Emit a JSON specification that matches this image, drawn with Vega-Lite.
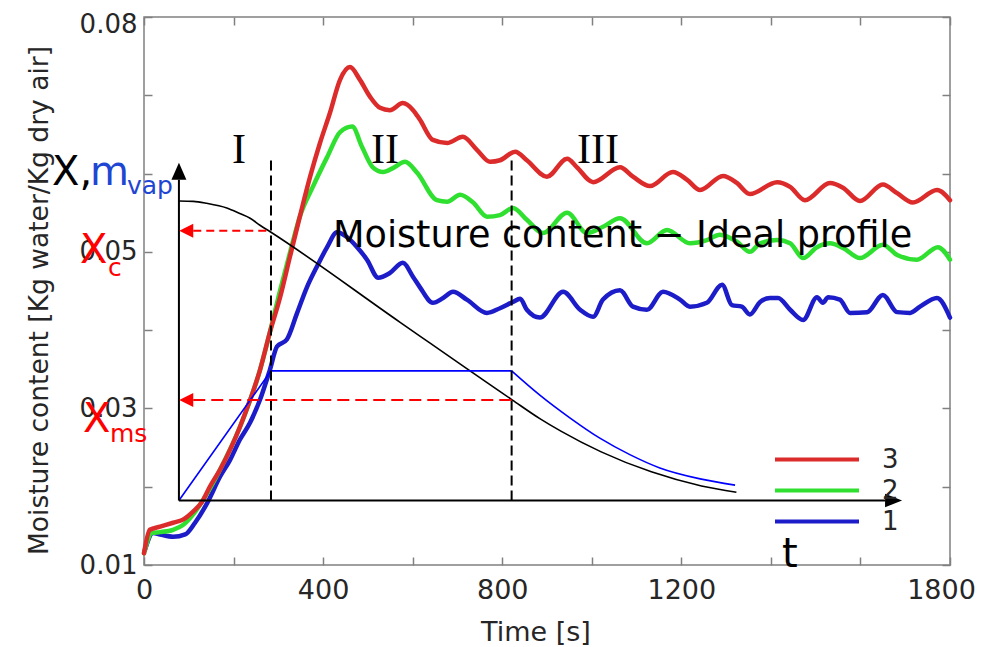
{
  "$schema": "https://vega.github.io/schema/vega-lite/v6.json",
  "width": 806,
  "height": 548,
  "autosize": {"type": "none"},
  "padding": {"left": 144, "top": 17, "right": 33, "bottom": 82},
  "config": {
    "view": {"stroke": "#808080", "strokeWidth": 1.5},
    "font": "DejaVu Sans",
    "text": {"font": "DejaVu Sans"}
  },
  "datasets": {
    "series": [
      {"series":"1","x":2,"y":0.0119},{"series":"1","x":20,"y":0.0141},{"series":"1","x":36,"y":0.0139},{"series":"1","x":65,"y":0.0136},{"series":"1","x":92,"y":0.0139},{"series":"1","x":114,"y":0.0154},{"series":"1","x":141,"y":0.0179},{"series":"1","x":170,"y":0.0213},{"series":"1","x":192,"y":0.0234},{"series":"1","x":214,"y":0.0260},{"series":"1","x":237,"y":0.0282},{"series":"1","x":259,"y":0.0311},{"series":"1","x":281,"y":0.0349},{"series":"1","x":297,"y":0.0379},{"series":"1","x":319,"y":0.0388},{"series":"1","x":342,"y":0.0422},{"series":"1","x":364,"y":0.0455},{"series":"1","x":386,"y":0.0481},{"series":"1","x":409,"y":0.0506},{"series":"1","x":431,"y":0.0525},{"series":"1","x":453,"y":0.0519},{"series":"1","x":476,"y":0.0506},{"series":"1","x":498,"y":0.0490},{"series":"1","x":523,"y":0.0467},{"series":"1","x":549,"y":0.0473},{"series":"1","x":578,"y":0.0486},{"series":"1","x":601,"y":0.0468},{"series":"1","x":616,"y":0.0455},{"series":"1","x":645,"y":0.0435},{"series":"1","x":668,"y":0.0441},{"series":"1","x":690,"y":0.0449},{"series":"1","x":721,"y":0.0439},{"series":"1","x":766,"y":0.0422},{"series":"1","x":795,"y":0.0428},{"series":"1","x":824,"y":0.0436},{"series":"1","x":840,"y":0.0440},{"series":"1","x":855,"y":0.0426},{"series":"1","x":884,"y":0.0416},{"series":"1","x":936,"y":0.0449},{"series":"1","x":974,"y":0.0426},{"series":"1","x":1003,"y":0.0417},{"series":"1","x":1025,"y":0.0439},{"series":"1","x":1063,"y":0.0451},{"series":"1","x":1092,"y":0.0430},{"series":"1","x":1123,"y":0.0426},{"series":"1","x":1159,"y":0.0449},{"series":"1","x":1197,"y":0.0439},{"series":"1","x":1219,"y":0.0430},{"series":"1","x":1257,"y":0.0435},{"series":"1","x":1291,"y":0.0458},{"series":"1","x":1313,"y":0.0432},{"series":"1","x":1335,"y":0.0430},{"series":"1","x":1353,"y":0.0420},{"series":"1","x":1376,"y":0.0436},{"series":"1","x":1398,"y":0.0441},{"series":"1","x":1416,"y":0.0441},{"series":"1","x":1443,"y":0.0426},{"series":"1","x":1472,"y":0.0413},{"series":"1","x":1503,"y":0.0442},{"series":"1","x":1516,"y":0.0435},{"series":"1","x":1528,"y":0.0442},{"series":"1","x":1554,"y":0.0439},{"series":"1","x":1577,"y":0.0422},{"series":"1","x":1615,"y":0.0423},{"series":"1","x":1650,"y":0.0445},{"series":"1","x":1682,"y":0.0423},{"series":"1","x":1711,"y":0.0422},{"series":"1","x":1733,"y":0.0430},{"series":"1","x":1771,"y":0.0441},{"series":"1","x":1800,"y":0.0416},
      {"series":"2","x":0,"y":0.0115},{"series":"2","x":18,"y":0.0141},{"series":"2","x":36,"y":0.0142},{"series":"2","x":65,"y":0.0145},{"series":"2","x":87,"y":0.0151},{"series":"2","x":109,"y":0.0164},{"series":"2","x":132,"y":0.0183},{"series":"2","x":170,"y":0.0222},{"series":"2","x":214,"y":0.0276},{"series":"2","x":259,"y":0.0349},{"series":"2","x":281,"y":0.0397},{"series":"2","x":304,"y":0.0451},{"series":"2","x":326,"y":0.0499},{"series":"2","x":348,"y":0.0545},{"series":"2","x":377,"y":0.0583},{"series":"2","x":409,"y":0.0621},{"series":"2","x":438,"y":0.0653},{"series":"2","x":465,"y":0.0660},{"series":"2","x":487,"y":0.0634},{"series":"2","x":511,"y":0.0608},{"series":"2","x":534,"y":0.0602},{"series":"2","x":556,"y":0.0607},{"series":"2","x":583,"y":0.0615},{"series":"2","x":610,"y":0.0601},{"series":"2","x":654,"y":0.0566},{"series":"2","x":677,"y":0.0564},{"series":"2","x":706,"y":0.0573},{"series":"2","x":735,"y":0.0563},{"series":"2","x":766,"y":0.0545},{"series":"2","x":795,"y":0.0547},{"series":"2","x":824,"y":0.0556},{"series":"2","x":855,"y":0.0541},{"series":"2","x":891,"y":0.0524},{"series":"2","x":945,"y":0.0550},{"series":"2","x":989,"y":0.0524},{"series":"2","x":1025,"y":0.0532},{"series":"2","x":1063,"y":0.0543},{"series":"2","x":1123,"y":0.0511},{"series":"2","x":1168,"y":0.0528},{"series":"2","x":1219,"y":0.0511},{"series":"2","x":1257,"y":0.0515},{"series":"2","x":1286,"y":0.0522},{"series":"2","x":1324,"y":0.0513},{"series":"2","x":1353,"y":0.0500},{"series":"2","x":1376,"y":0.0511},{"series":"2","x":1414,"y":0.0515},{"series":"2","x":1443,"y":0.0511},{"series":"2","x":1472,"y":0.0492},{"series":"2","x":1503,"y":0.0506},{"series":"2","x":1532,"y":0.0511},{"series":"2","x":1561,"y":0.0505},{"series":"2","x":1599,"y":0.0492},{"series":"2","x":1650,"y":0.0509},{"series":"2","x":1682,"y":0.0496},{"series":"2","x":1726,"y":0.0490},{"series":"2","x":1773,"y":0.0506},{"series":"2","x":1800,"y":0.0490},
      {"series":"3","x":0,"y":0.0115},{"series":"3","x":13,"y":0.0145},{"series":"3","x":36,"y":0.0149},{"series":"3","x":65,"y":0.0154},{"series":"3","x":87,"y":0.0158},{"series":"3","x":109,"y":0.0168},{"series":"3","x":130,"y":0.0181},{"series":"3","x":147,"y":0.0200},{"series":"3","x":170,"y":0.0222},{"series":"3","x":192,"y":0.0247},{"series":"3","x":214,"y":0.0276},{"series":"3","x":237,"y":0.0311},{"series":"3","x":259,"y":0.0349},{"series":"3","x":281,"y":0.0397},{"series":"3","x":304,"y":0.0442},{"series":"3","x":326,"y":0.0494},{"series":"3","x":348,"y":0.0545},{"series":"3","x":371,"y":0.0596},{"series":"3","x":393,"y":0.0639},{"series":"3","x":415,"y":0.0677},{"series":"3","x":438,"y":0.0720},{"series":"3","x":460,"y":0.0736},{"series":"3","x":482,"y":0.0720},{"series":"3","x":505,"y":0.0698},{"series":"3","x":527,"y":0.0684},{"series":"3","x":549,"y":0.0681},{"series":"3","x":578,"y":0.0690},{"series":"3","x":601,"y":0.0681},{"series":"3","x":616,"y":0.0669},{"series":"3","x":645,"y":0.0643},{"series":"3","x":677,"y":0.0639},{"series":"3","x":712,"y":0.0647},{"series":"3","x":744,"y":0.0630},{"series":"3","x":773,"y":0.0615},{"series":"3","x":795,"y":0.0617},{"series":"3","x":829,"y":0.0628},{"series":"3","x":855,"y":0.0617},{"series":"3","x":900,"y":0.0596},{"series":"3","x":945,"y":0.0619},{"series":"3","x":967,"y":0.0608},{"series":"3","x":1003,"y":0.0589},{"series":"3","x":1063,"y":0.0608},{"series":"3","x":1092,"y":0.0596},{"series":"3","x":1130,"y":0.0584},{"series":"3","x":1181,"y":0.0602},{"series":"3","x":1213,"y":0.0592},{"series":"3","x":1242,"y":0.0579},{"series":"3","x":1293,"y":0.0597},{"series":"3","x":1324,"y":0.0588},{"series":"3","x":1353,"y":0.0574},{"series":"3","x":1414,"y":0.0589},{"series":"3","x":1443,"y":0.0583},{"series":"3","x":1476,"y":0.0566},{"series":"3","x":1532,"y":0.0588},{"series":"3","x":1561,"y":0.0582},{"series":"3","x":1599,"y":0.0565},{"series":"3","x":1650,"y":0.0586},{"series":"3","x":1682,"y":0.0575},{"series":"3","x":1717,"y":0.0563},{"series":"3","x":1771,"y":0.0579},{"series":"3","x":1800,"y":0.0566}
    ],
    "blackCurve": [
      {"x":78,"y":0.0565},{"x":110,"y":0.05645},{"x":140,"y":0.0562},{"x":185,"y":0.0556},{"x":214,"y":0.0549},{"x":237,"y":0.0543},{"x":259,"y":0.0534},{"x":281,"y":0.0526},{"x":572,"y":0.0410},{"x":822,"y":0.0311},{"x":884,"y":0.0287},{"x":931,"y":0.0271},{"x":1021,"y":0.02445},{"x":1133,"y":0.0219},{"x":1245,"y":0.0201},{"x":1323,"y":0.0193}
    ],
    "blueProfile": [
      {"x":78,"y":0.01823},{"x":283.6,"y":0.0348},{"x":821,"y":0.0348}
    ],
    "blueDecay": [
      {"x":821,"y":0.0348},{"x":884,"y":0.0317},{"x":951,"y":0.0288},{"x":1018,"y":0.0262},{"x":1085,"y":0.0241},{"x":1152,"y":0.0224},{"x":1242,"y":0.0210},{"x":1320,"y":0.0202}
    ],
    "overlayAxes": [
      {"x":78,"y":0.01823,"x2":78,"y2":0.0592},
      {"x":78,"y":0.01823,"x2":1655,"y2":0.01823}
    ],
    "arrowUp": [{"x":78,"y":0.0592}],
    "arrowRight": [{"x":1655,"y":0.01823}],
    "arrowLeft": [{"x":110,"y":0.05271},{"x":110,"y":0.03109}],
    "dashBlack": [
      {"x":283.6,"y":0.01823,"x2":283.6,"y2":0.0620},
      {"x":821,"y":0.01823,"x2":821,"y2":0.0622}
    ],
    "dashRedShort": [{"x":110,"y":0.05271,"x2":283.6,"y2":0.05271}],
    "dashRedLong": [{"x":110,"y":0.03109,"x2":821,"y2":0.03109}],
    "textBlack": [{"x":-205.5,"y":0.05855,"text":"X,"},{"x":1425,"y":0.00977,"text":"t"}],
    "textBlue": [{"x":-120.6,"y":0.05855,"text":"m"}],
    "textBlueSub": [{"x":-38,"y":0.0574,"text":"vap"}],
    "textRed": [{"x":-143,"y":0.04859,"text":"X"},{"x":-136.2,"y":0.0270,"text":"X"}],
    "textRedSub": [{"x":-80.4,"y":0.04693,"text":"c"},{"x":-75.9,"y":0.02573,"text":"ms"}],
    "roman": [{"x":212,"y":0.06136,"text":"I"},{"x":538,"y":0.06136,"text":"II"},{"x":1014,"y":0.06136,"text":"III"}],
    "profileTitle": [{"x":422,"y":0.05067,"text":"Moisture content − Ideal profile"}]
  },
  "encoding": {
    "x": {"field": "x", "type": "quantitative", "scale": {"domain": [0, 1800], "nice": false, "zero": false}, "axis": null},
    "y": {"field": "y", "type": "quantitative", "scale": {"domain": [0.01, 0.08], "nice": false, "zero": false}, "axis": null}
  },
  "layer": [
    {
      "data": {"name": "series"},
      "mark": {"type": "line", "strokeWidth": 4.5, "strokeJoin": "round", "strokeCap": "round", "interpolate": "monotone"},
      "encoding": {
        "x": {"field": "x", "type": "quantitative", "scale": {"domain": [0, 1800], "nice": false, "zero": false},
          "axis": {"orient": "bottom", "values": [0,200,400,600,800,1000,1200,1400,1600,1800], "format": "d",
            "labelExpr": "indexof([0,400,800,1200,1800], datum.value) >= 0 ? datum.label : ''",
            "labelFontSize": 27, "labelColor": "#262626", "labelFont": "DejaVu Sans", "labelFlush": false, "labelOverlap": false,
            "labelOffset": {"condition": {"test": "datum.value > 1700", "value": -9}, "value": 0},
            "tickColor": "#808080", "tickWidth": 1.5, "tickSize": -8, "labelPadding": 20, "domain": false, "grid": false,
            "title": "Time [s]", "titleFontSize": 27, "titleFontWeight": "normal", "titleColor": "#262626", "titleFont": "DejaVu Sans",
            "titleX": 391.5, "titleY": 75, "titleBaseline": "alphabetic", "titleAlign": "center", "titleAnchor": null}},
        "y": {"field": "y", "type": "quantitative", "scale": {"domain": [0.01, 0.08], "nice": false, "zero": false},
          "axis": {"orient": "left", "values": [0.01,0.02,0.03,0.04,0.05,0.06,0.07,0.08],
            "labelExpr": "indexof([1,3,5,8], round(datum.value*100)) >= 0 ? format(datum.value, '.2f') : ''",
            "labelFontSize": 26, "labelColor": "#262626", "labelFont": "DejaVu Sans", "labelFlush": false, "labelOverlap": false,
            "labelOffset": {"condition": {"test": "datum.value > 0.075", "value": 7}, "value": 0},
            "tickColor": "#808080", "tickWidth": 1.5, "tickSize": -8, "labelPadding": 15, "domain": false, "grid": false,
            "title": "Moisture content [Kg water/Kg dry air]", "titleFontSize": 26.5, "titleFontWeight": "normal", "titleColor": "#262626", "titleFont": "DejaVu Sans",
            "titleX": -97, "titleY": 283, "titleAngle": 270, "titleBaseline": "alphabetic", "titleAlign": "center", "titleAnchor": null}},
        "color": {"field": "series", "type": "nominal",
          "scale": {"domain": ["3","2","1"], "range": ["#dc2b2b","#30e030","#1c1cc8"]},
          "legend": {"orient": "none", "legendX": 629, "legendY": 430, "title": null, "symbolType": "stroke", "symbolSize": 7056,
            "symbolStrokeWidth": 4, "labelFontSize": 26, "labelFont": "DejaVu Sans", "labelColor": "#262626", "labelOffset": 21,
            "clipHeight": 25, "rowPadding": 4, "padding": 0, "offset": 0}}
      }
    },
    {
      "data": {"name": "blackCurve"},
      "mark": {"type": "line", "color": "black", "strokeWidth": 1.6, "interpolate": "monotone"},
      "encoding": {
        "x": {"field": "x", "type": "quantitative", "scale": {"domain": [0, 1800], "nice": false, "zero": false},
          "axis": {"orient": "top", "values": [0,200,400,600,800,1000,1200,1400,1600,1800], "labels": false, "tickSize": -8, "tickColor": "#808080", "tickWidth": 1.5, "domain": false, "grid": false, "title": null}},
        "y": {"field": "y", "type": "quantitative", "scale": {"domain": [0.01, 0.08], "nice": false, "zero": false},
          "axis": {"orient": "right", "values": [0.01,0.02,0.03,0.04,0.05,0.06,0.07,0.08], "labels": false, "tickSize": -8, "tickColor": "#808080", "tickWidth": 1.5, "domain": false, "grid": false, "title": null}}
      }
    },
    {
      "data": {"name": "blueProfile"},
      "mark": {"type": "line", "color": "#0000ff", "strokeWidth": 1.6},
      "encoding": {}
    },
    {
      "data": {"name": "blueDecay"},
      "mark": {"type": "line", "color": "#0000ff", "strokeWidth": 1.6, "interpolate": "monotone"},
      "encoding": {}
    },
    {
      "data": {"name": "overlayAxes"},
      "mark": {"type": "rule", "color": "black", "strokeWidth": 2},
      "encoding": {"x2": {"field": "x2"}, "y2": {"field": "y2"}}
    },
    {
      "data": {"name": "dashBlack"},
      "mark": {"type": "rule", "color": "black", "strokeWidth": 2, "strokeDash": [10, 5]},
      "encoding": {"x2": {"field": "x2"}, "y2": {"field": "y2"}}
    },
    {
      "data": {"name": "dashRedShort"},
      "mark": {"type": "rule", "color": "#ff0000", "strokeWidth": 2, "strokeDash": [8, 5]},
      "encoding": {"x2": {"field": "x2"}, "y2": {"field": "y2"}}
    },
    {
      "data": {"name": "dashRedLong"},
      "mark": {"type": "rule", "color": "#ff0000", "strokeWidth": 2, "strokeDash": [12, 6]},
      "encoding": {"x2": {"field": "x2"}, "y2": {"field": "y2"}}
    },
    {
      "data": {"name": "arrowUp"},
      "mark": {"type": "point", "shape": "M0,-1L-0.44,0L0.44,0Z", "filled": true, "size": 1156, "color": "black", "opacity": 1, "strokeWidth": 0}
    },
    {
      "data": {"name": "arrowRight"},
      "mark": {"type": "point", "shape": "M1,0L0,-0.4L0,0.4Z", "filled": true, "size": 1156, "color": "black", "opacity": 1, "strokeWidth": 0}
    },
    {
      "data": {"name": "arrowLeft"},
      "mark": {"type": "point", "shape": "M-1,0L0,-0.5L0,0.5Z", "filled": true, "size": 784, "color": "#ff0000", "opacity": 1, "strokeWidth": 0}
    },
    {
      "data": {"name": "profileTitle"},
      "mark": {"type": "text", "align": "left", "baseline": "alphabetic", "fontSize": 36.6, "font": "DejaVu Sans", "color": "black"},
      "encoding": {"text": {"field": "text"}}
    },
    {
      "data": {"name": "roman"},
      "mark": {"type": "text", "align": "center", "baseline": "alphabetic", "fontSize": 42, "font": "Liberation Serif", "color": "black"},
      "encoding": {"text": {"field": "text"}}
    },
    {
      "data": {"name": "textBlack"},
      "mark": {"type": "text", "align": "left", "baseline": "alphabetic", "fontSize": 40, "font": "DejaVu Sans", "color": "black"},
      "encoding": {"text": {"field": "text"}}
    },
    {
      "data": {"name": "textBlue"},
      "mark": {"type": "text", "align": "left", "baseline": "alphabetic", "fontSize": 40, "font": "DejaVu Sans", "color": "#1e46d2"},
      "encoding": {"text": {"field": "text"}}
    },
    {
      "data": {"name": "textBlueSub"},
      "mark": {"type": "text", "align": "left", "baseline": "alphabetic", "fontSize": 25, "font": "DejaVu Sans", "color": "#1e46d2"},
      "encoding": {"text": {"field": "text"}}
    },
    {
      "data": {"name": "textRed"},
      "mark": {"type": "text", "align": "left", "baseline": "alphabetic", "fontSize": 40, "font": "DejaVu Sans", "color": "#ff0000"},
      "encoding": {"text": {"field": "text"}}
    },
    {
      "data": {"name": "textRedSub"},
      "mark": {"type": "text", "align": "left", "baseline": "alphabetic", "fontSize": 25, "font": "DejaVu Sans", "color": "#ff0000"},
      "encoding": {"text": {"field": "text"}}
    }
  ],
  "resolve": {"axis": {"x": "independent", "y": "independent"}}
}
